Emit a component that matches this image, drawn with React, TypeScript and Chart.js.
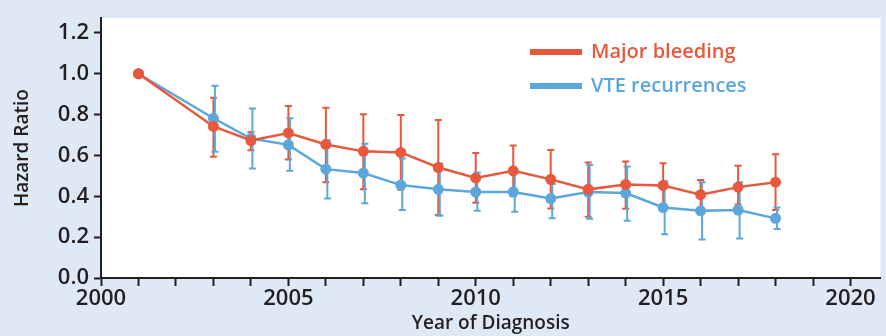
import React, { useEffect, useRef } from 'react';
import { Chart, registerables } from 'chart.js';

Chart.register(...registerables);

const years = [2001, 2003, 2004, 2005, 2006, 2007, 2008, 2009, 2010, 2011, 2012, 2013, 2014, 2015, 2016, 2017, 2018];

const bleedingHR = [1.0, 0.742, 0.673, 0.71, 0.654, 0.62, 0.615, 0.541, 0.49, 0.525, 0.483, 0.434, 0.458, 0.453, 0.408, 0.445, 0.469];
const bleedingLow = [null, 0.594, 0.625, 0.58, 0.469, 0.435, 0.432, 0.308, 0.368, 0.4, 0.34, 0.3, 0.339, 0.36, 0.34, 0.36, 0.333];
const bleedingHigh = [null, 0.883, 0.713, 0.842, 0.834, 0.802, 0.798, 0.774, 0.612, 0.649, 0.627, 0.565, 0.57, 0.562, 0.48, 0.549, 0.606];

const vteHR = [1.0, 0.782, 0.683, 0.652, 0.533, 0.514, 0.455, 0.434, 0.421, 0.421, 0.389, 0.421, 0.416, 0.345, 0.329, 0.333, 0.292];
const vteLow = [null, 0.618, 0.536, 0.525, 0.389, 0.366, 0.333, 0.305, 0.329, 0.324, 0.292, 0.29, 0.28, 0.214, 0.188, 0.193, 0.24];
const vteHigh = [null, 0.941, 0.83, 0.782, 0.675, 0.657, 0.585, 0.56, 0.517, 0.517, 0.46, 0.553, 0.546, 0.474, 0.469, 0.469, 0.345];

const xTickValues = [2000, 2001, 2002, 2003, 2004, 2005, 2006, 2007, 2008, 2009, 2010, 2011, 2012, 2013, 2014, 2015, 2016, 2017, 2018, 2019, 2020];
const yTickValues = [0, 0.2, 0.4, 0.6, 0.8, 1.0, 1.2];

const RED = '#e8583d';
const BLUE = '#5ba7dc';
const INK = '#231f20';
const BG = '#dfe8f5';
const FONT = '"Open Sans", "Noto Sans", sans-serif';

const lows = [bleedingLow, vteLow];
const highs = [bleedingHigh, vteHigh];
const barOffsets = [0, 1.5];

const plotBgPlugin = {
  id: 'plotBg',
  beforeDraw(chart: any) {
    const { ctx, chartArea } = chart;
    ctx.save();
    ctx.fillStyle = BG;
    ctx.fillRect(0, 0, chart.width, chart.height);
    ctx.fillStyle = '#ffffff';
    ctx.fillRect(chartArea.left, chartArea.top, chartArea.right - chartArea.left, chartArea.bottom - chartArea.top);
    ctx.restore();
  },
};

const errorBarPlugin = {
  id: 'errorBars',
  beforeDatasetsDraw(chart: any) {
    const { ctx } = chart;
    const xs = chart.scales.x;
    const ys = chart.scales.y;
    ctx.save();
    chart.data.datasets.forEach((ds: any, di: number) => {
      ctx.strokeStyle = ds.borderColor;
      ctx.lineWidth = 2;
      const lo = lows[di];
      const hi = highs[di];
      years.forEach((yr, i) => {
        if (lo[i] == null || hi[i] == null) return;
        const x = xs.getPixelForValue(yr) + barOffsets[di];
        const y1 = ys.getPixelForValue(lo[i]);
        const y2 = ys.getPixelForValue(hi[i]);
        ctx.beginPath();
        ctx.moveTo(x, y1);
        ctx.lineTo(x, y2);
        ctx.moveTo(x - 3.5, y1);
        ctx.lineTo(x + 3.5, y1);
        ctx.moveTo(x - 3.5, y2);
        ctx.lineTo(x + 3.5, y2);
        ctx.stroke();
      });
    });
    ctx.restore();
  },
};

const legendPlugin = {
  id: 'customLegend',
  afterDraw(chart: any) {
    const { ctx } = chart;
    ctx.save();
    const rows = [52, 86];
    chart.data.datasets.forEach((ds: any, i: number) => {
      const y = rows[i];
      ctx.fillStyle = ds.borderColor;
      ctx.fillRect(530, y - 3, 52, 6);
      ctx.font = `600 20px ${FONT}`;
      ctx.textBaseline = 'middle';
      ctx.textAlign = 'left';
      ctx.fillText(ds.label, 591, y);
    });
    ctx.restore();
  },
};

export default function App() {
  const ref = useRef<HTMLCanvasElement | null>(null);

  useEffect(() => {
    if (!ref.current) return;
    const chart = new Chart(ref.current, {
      type: 'line',
      data: {
        datasets: [
          {
            label: 'Major bleeding',
            data: years.map((x, i) => ({ x, y: bleedingHR[i] })),
            borderColor: RED,
            backgroundColor: RED,
            borderWidth: 2.5,
            pointRadius: 5.5,
            pointBorderWidth: 0,
            pointBackgroundColor: RED,
            tension: 0,
          },
          {
            label: 'VTE recurrences',
            data: years.map((x, i) => ({ x, y: vteHR[i] })),
            borderColor: BLUE,
            backgroundColor: BLUE,
            borderWidth: 2.5,
            pointRadius: 5.5,
            pointBorderWidth: 0,
            pointBackgroundColor: BLUE,
            tension: 0,
          },
        ],
      },
      options: {
        responsive: false,
        animation: false,
        devicePixelRatio: 1,
        layout: { padding: { top: 15, right: 0, left: 0, bottom: 0 } },
        plugins: { legend: { display: false }, tooltip: { enabled: false } },
        scales: {
          x: {
            type: 'linear',
            min: 2000,
            max: 2020.8,
            afterBuildTicks: (s: any) => {
              s.ticks = xTickValues.map((v) => ({ value: v }));
            },
            afterFit: (s: any) => {
              s.height = 58;
            },
            grid: { drawOnChartArea: false, drawTicks: true, tickLength: 8, tickWidth: 2, tickColor: INK },
            border: { display: true, color: INK, width: 2 },
            ticks: {
              autoSkip: false,
              maxRotation: 0,
              padding: 0,
              color: INK,
              font: { family: FONT, size: 22, weight: '600' },
              callback: (v: any) => (Number(v) % 5 === 0 ? String(v) : ''),
            },
            title: {
              display: true,
              text: 'Year of Diagnosis',
              color: INK,
              font: { family: FONT, size: 19, weight: '600' },
              padding: { top: 0, bottom: 1 },
            },
          },
          y: {
            min: 0,
            max: 1.272,
            afterBuildTicks: (s: any) => {
              s.ticks = yTickValues.map((v) => ({ value: v }));
            },
            afterFit: (s: any) => {
              s.width = 101;
            },
            grid: { drawOnChartArea: false, drawTicks: true, tickLength: 7, tickWidth: 2, tickColor: INK },
            border: { display: true, color: INK, width: 2 },
            ticks: {
              padding: 5,
              color: INK,
              font: { family: FONT, size: 22, weight: '600' },
              callback: (v: any) => Number(v).toFixed(1),
            },
            title: {
              display: true,
              text: 'Hazard Ratio',
              color: INK,
              font: { family: FONT, size: 19, weight: '600' },
              padding: { top: 11, bottom: 0 },
            },
          },
        },
      },
      plugins: [plotBgPlugin, errorBarPlugin, legendPlugin],
    } as any);
    return () => chart.destroy();
  }, []);

  return (
    <div style={{ position: 'absolute', left: 0, top: 0, width: 886, height: 336, background: BG }}>
      <canvas ref={ref} width={886} height={336} style={{ display: 'block', width: 886, height: 336 }} />
    </div>
  );
}
